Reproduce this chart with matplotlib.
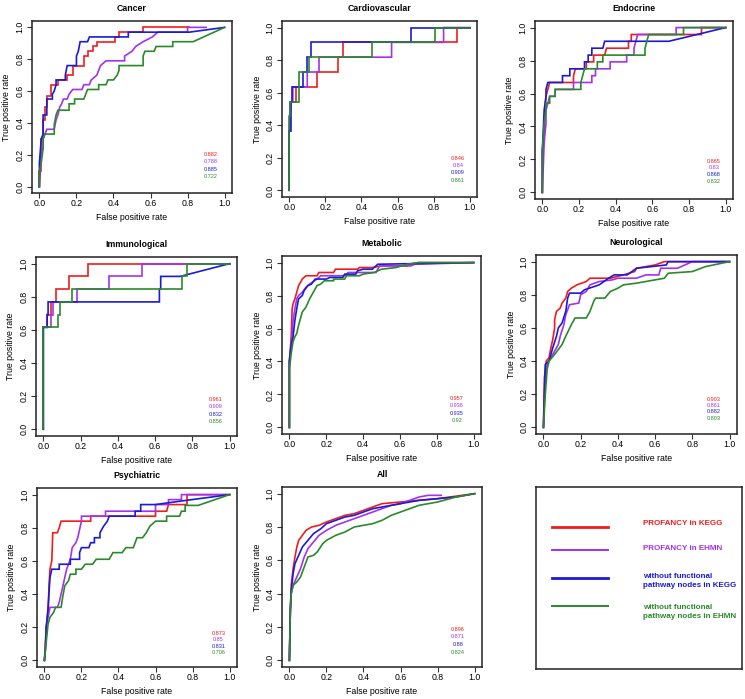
import matplotlib
matplotlib.use("Agg")
import matplotlib.pyplot as plt

plt.rcParams['font.family'] = ['Liberation Sans', 'DejaVu Sans']

# ---------------- data ----------------
methods = ["PROFANCY in KEGG", "PROFANCY in EHMN",
           "without functional\npathway nodes in KEGG",
           "without functional\npathway nodes in EHMN"]
colors = ['#f01c1c', '#a431ee', '#1a1ad8', '#2a8a2a']

# Cancer
cancer_kegg = [(0, 0), (0, 0.1), (0.01, 0.1), (0.01, 0.3), (0.02, 0.3), (0.02, 0.42), (0.03, 0.42), (0.03, 0.5),
               (0.04, 0.5), (0.04, 0.57), (0.06, 0.57), (0.06, 0.64), (0.1, 0.64), (0.1, 0.67), (0.15, 0.67),
               (0.15, 0.7), (0.18, 0.7), (0.18, 0.76), (0.24, 0.76), (0.24, 0.82), (0.26, 0.82), (0.26, 0.85),
               (0.29, 0.85), (0.29, 0.88), (0.31, 0.88), (0.31, 0.91), (0.41, 0.91), (0.41, 0.94), (0.43, 0.94),
               (0.43, 0.97), (0.56, 0.97), (0.56, 1.0), (0.81, 1.0)]
cancer_ehmn = [(0, 0), (0.01, 0.21), (0.02, 0.25), (0.02, 0.3), (0.03, 0.33), (0.04, 0.36), (0.08, 0.36),
               (0.09, 0.42), (0.1, 0.45), (0.11, 0.5), (0.12, 0.52), (0.13, 0.55), (0.15, 0.55), (0.16, 0.58),
               (0.18, 0.61), (0.23, 0.61), (0.24, 0.64), (0.27, 0.64), (0.28, 0.67), (0.31, 0.7), (0.32, 0.73),
               (0.33, 0.76), (0.36, 0.79), (0.46, 0.79), (0.46, 0.82), (0.5, 0.85), (0.52, 0.88), (0.56, 0.91),
               (0.61, 0.94), (0.64, 0.97), (0.8, 0.97), (0.8, 1.0), (0.9, 1.0)]
cancer_kegg_nofp = [(0, 0), (0, 0.15), (0.01, 0.3), (0.02, 0.33), (0.02, 0.45), (0.04, 0.45), (0.04, 0.55),
                    (0.07, 0.55), (0.07, 0.58), (0.08, 0.6), (0.09, 0.64), (0.09, 0.67), (0.14, 0.67),
                    (0.14, 0.7), (0.15, 0.76), (0.2, 0.76), (0.2, 0.82), (0.21, 0.85), (0.22, 0.91), (0.26, 0.91),
                    (0.27, 0.94), (0.48, 0.94), (0.48, 0.97), (0.81, 0.97), (1, 1)]
cancer_ehmn_nofp = [(0, 0), (0, 0.09), (0.01, 0.15), (0.02, 0.24), (0.02, 0.3), (0.03, 0.33), (0.08, 0.33),
                    (0.08, 0.39), (0.09, 0.45), (0.1, 0.48), (0.16, 0.48), (0.16, 0.52), (0.19, 0.52),
                    (0.19, 0.55), (0.24, 0.55), (0.25, 0.58), (0.26, 0.61), (0.32, 0.61), (0.32, 0.64),
                    (0.36, 0.64), (0.37, 0.67), (0.4, 0.67), (0.42, 0.7), (0.43, 0.73), (0.43, 0.76),
                    (0.56, 0.76), (0.56, 0.82), (0.57, 0.85), (0.62, 0.85), (0.63, 0.88), (0.72, 0.88),
                    (0.72, 0.91), (0.83, 0.91), (1, 1)]
cancer_auc = [0.882, 0.788, 0.885, 0.722]

# Cardiovascular
cardio_kegg = [(0, 0), (0, 0.364), (0.005, 0.364), (0.005, 0.545), (0.04, 0.545), (0.04, 0.636), (0.155, 0.636),
               (0.155, 0.727), (0.27, 0.727), (0.27, 0.818), (0.3, 0.818), (0.3, 0.909), (0.93, 0.909),
               (0.93, 1.0), (1, 1)]
cardio_ehmn = [(0, 0), (0, 0.364), (0.005, 0.455), (0.01, 0.545), (0.02, 0.545), (0.02, 0.636), (0.1, 0.636),
               (0.1, 0.727), (0.165, 0.727), (0.165, 0.818), (0.567, 0.818), (0.567, 0.909), (0.855, 0.909),
               (0.855, 1.0), (1, 1)]
cardio_kegg_nofp = [(0, 0), (0, 0.364), (0.01, 0.364), (0.01, 0.545), (0.015, 0.545), (0.015, 0.636),
                    (0.075, 0.636), (0.075, 0.727), (0.1, 0.727), (0.1, 0.818), (0.118, 0.818), (0.118, 0.909),
                    (0.672, 0.909), (0.672, 1.0), (1, 1)]
cardio_ehmn_nofp = [(0, 0), (0, 0.455), (0.005, 0.455), (0.005, 0.545), (0.055, 0.545), (0.055, 0.727),
                    (0.112, 0.727), (0.112, 0.818), (0.46, 0.818), (0.46, 0.909), (0.81, 0.909), (0.81, 1.0),
                    (1, 1)]
cardio_auc = [0.846, 0.84, 0.909, 0.861]

# Endocrine
endo_kegg = [(0, 0), (0, 0.25), (0.01, 0.375), (0.015, 0.5), (0.02, 0.583), (0.03, 0.625), (0.04, 0.667),
             (0.17, 0.667), (0.17, 0.708), (0.18, 0.75), (0.24, 0.75), (0.24, 0.792), (0.28, 0.792),
             (0.28, 0.833), (0.34, 0.833), (0.35, 0.875), (0.47, 0.875), (0.47, 0.917), (0.485, 0.917),
             (0.485, 0.958), (0.868, 0.958), (0.868, 1.0), (1, 1)]
endo_ehmn = [(0, 0), (0.01, 0.3), (0.02, 0.42), (0.02, 0.5), (0.03, 0.54), (0.04, 0.583), (0.07, 0.583),
             (0.07, 0.625), (0.17, 0.625), (0.17, 0.667), (0.27, 0.667), (0.27, 0.708), (0.29, 0.708),
             (0.29, 0.75), (0.37, 0.75), (0.37, 0.792), (0.46, 0.792), (0.46, 0.833), (0.5, 0.833),
             (0.5, 0.875), (0.51, 0.917), (0.52, 0.958), (0.73, 0.958), (0.73, 1.0), (1, 1)]
endo_kegg_nofp = [(0, 0), (0, 0.25), (0.005, 0.375), (0.01, 0.5), (0.02, 0.583), (0.02, 0.625), (0.03, 0.667),
                  (0.11, 0.667), (0.11, 0.708), (0.15, 0.708), (0.15, 0.75), (0.23, 0.75), (0.23, 0.792),
                  (0.25, 0.792), (0.25, 0.833), (0.27, 0.833), (0.27, 0.875), (0.33, 0.875), (0.34, 0.917),
                  (0.69, 0.917), (1, 1)]
endo_ehmn_nofp = [(0, 0), (0, 0.25), (0.01, 0.42), (0.02, 0.5), (0.02, 0.542), (0.04, 0.542), (0.04, 0.583),
                  (0.07, 0.583), (0.07, 0.625), (0.21, 0.625), (0.21, 0.667), (0.22, 0.708), (0.23, 0.75),
                  (0.3, 0.75), (0.3, 0.792), (0.33, 0.792), (0.33, 0.833), (0.56, 0.833), (0.56, 0.875),
                  (0.57, 0.917), (0.58, 0.958), (0.77, 0.958), (0.77, 1.0), (1, 1)]
endo_auc = [0.865, 0.83, 0.868, 0.832]

# Immunological
immuno_kegg = [(0, 0), (0, 0.615), (0.02, 0.615), (0.02, 0.692), (0.04, 0.692), (0.04, 0.769), (0.066, 0.769),
               (0.066, 0.846), (0.1375, 0.846), (0.1375, 0.923), (0.24, 0.923), (0.24, 1.0), (1, 1)]
immuno_ehmn = [(0, 0), (0, 0.615), (0.04, 0.615), (0.04, 0.692), (0.05, 0.692), (0.05, 0.769), (0.18, 0.769),
               (0.18, 0.846), (0.35, 0.846), (0.35, 0.923), (0.53, 0.923), (0.53, 1.0), (1, 1)]
immuno_kegg_nofp = [(0, 0), (0, 0.615), (0.02, 0.615), (0.02, 0.692), (0.025, 0.692), (0.025, 0.769),
                    (0.623, 0.769), (0.623, 0.846), (0.63, 0.846), (0.63, 0.923), (0.735, 0.923), (1, 1)]
immuno_ehmn_nofp = [(0, 0), (0, 0.615), (0.08, 0.615), (0.08, 0.692), (0.09, 0.692), (0.09, 0.769),
                    (0.152, 0.769), (0.152, 0.846), (0.745, 0.846), (0.745, 0.923), (0.77, 0.923), (0.77, 1.0),
                    (1, 1)]
immuno_auc = [0.961, 0.909, 0.832, 0.856]

# Metabolic
metab_kegg = [(0, 0), (0, 0.4), (0.01, 0.55), (0.015, 0.72), (0.02, 0.75), (0.03, 0.78), (0.04, 0.82),
              (0.05, 0.86), (0.06, 0.88), (0.07, 0.9), (0.09, 0.92), (0.15, 0.92), (0.16, 0.94), (0.24, 0.94),
              (0.25, 0.96), (0.37, 0.96), (0.38, 0.97), (0.45, 0.97), (0.5, 0.98), (0.64, 0.98), (0.65, 0.99),
              (0.7, 1.0), (1, 1)]
metab_ehmn = [(0, 0), (0, 0.4), (0.01, 0.5), (0.02, 0.65), (0.03, 0.72), (0.04, 0.78), (0.05, 0.8),
              (0.07, 0.82), (0.09, 0.85), (0.11, 0.87), (0.15, 0.9), (0.17, 0.92), (0.3, 0.92), (0.32, 0.94),
              (0.47, 0.94), (0.49, 0.98), (0.66, 0.98), (0.68, 0.99), (1, 1)]
metab_kegg_nofp = [(0, 0), (0, 0.4), (0.01, 0.5), (0.02, 0.55), (0.03, 0.65), (0.04, 0.72), (0.05, 0.78),
                   (0.07, 0.8), (0.08, 0.83), (0.1, 0.86), (0.12, 0.87), (0.14, 0.9), (0.2, 0.9), (0.22, 0.91),
                   (0.29, 0.91), (0.3, 0.93), (0.36, 0.93), (0.37, 0.95), (0.4, 0.96), (0.45, 0.96),
                   (0.48, 0.99), (1, 1)]
metab_ehmn_nofp = [(0, 0), (0, 0.35), (0.01, 0.45), (0.02, 0.52), (0.03, 0.55), (0.04, 0.57), (0.05, 0.62),
                   (0.06, 0.66), (0.07, 0.7), (0.09, 0.73), (0.11, 0.78), (0.13, 0.82), (0.15, 0.86),
                   (0.17, 0.87), (0.19, 0.89), (0.24, 0.89), (0.24, 0.9), (0.3, 0.9), (0.31, 0.92), (0.38, 0.92),
                   (0.4, 0.93), (0.46, 0.94), (0.5, 0.96), (0.58, 0.97), (0.64, 0.99), (0.7, 1.0), (1, 1)]
metab_auc = [0.957, 0.936, 0.935, 0.92]

# Neurological
neuro_kegg = [(0, 0), (0.005, 0.3), (0.01, 0.35), (0.015, 0.4), (0.03, 0.42), (0.04, 0.48), (0.05, 0.53),
              (0.06, 0.6), (0.06, 0.65), (0.07, 0.7), (0.09, 0.72), (0.1, 0.75), (0.12, 0.78), (0.13, 0.82),
              (0.15, 0.84), (0.18, 0.86), (0.23, 0.88), (0.25, 0.9), (0.36, 0.9), (0.43, 0.92), (0.49, 0.94),
              (0.5, 0.96), (0.6, 0.98), (0.65, 1.0), (1, 1)]
neuro_ehmn = [(0, 0), (0.01, 0.3), (0.02, 0.38), (0.04, 0.42), (0.06, 0.46), (0.08, 0.5), (0.09, 0.55),
              (0.11, 0.62), (0.12, 0.68), (0.14, 0.74), (0.19, 0.75), (0.2, 0.8), (0.23, 0.82), (0.25, 0.86),
              (0.3, 0.88), (0.37, 0.89), (0.4, 0.9), (0.5, 0.9), (0.55, 0.92), (0.62, 0.92), (0.63, 0.96),
              (0.72, 0.96), (0.8, 1.0), (1, 1)]
neuro_kegg_nofp = [(0, 0), (0.005, 0.2), (0.01, 0.38), (0.03, 0.4), (0.05, 0.48), (0.07, 0.55), (0.08, 0.6),
                   (0.1, 0.63), (0.12, 0.7), (0.13, 0.78), (0.14, 0.81), (0.2, 0.81), (0.22, 0.83), (0.3, 0.86),
                   (0.35, 0.9), (0.38, 0.92), (0.45, 0.92), (0.5, 0.96), (0.66, 0.98), (0.67, 1.0), (1, 1)]
neuro_ehmn_nofp = [(0, 0), (0.01, 0.2), (0.02, 0.35), (0.03, 0.4), (0.06, 0.44), (0.08, 0.47), (0.1, 0.5),
                   (0.12, 0.55), (0.15, 0.62), (0.17, 0.66), (0.23, 0.66), (0.25, 0.7), (0.27, 0.76),
                   (0.28, 0.78), (0.33, 0.78), (0.36, 0.82), (0.4, 0.84), (0.43, 0.86), (0.5, 0.87),
                   (0.55, 0.88), (0.6, 0.89), (0.65, 0.9), (0.67, 0.93), (0.8, 0.94), (0.87, 0.97), (1, 1)]
neuro_auc = [0.903, 0.861, 0.882, 0.803]

# Psychiatric
psych_kegg = [(0, 0), (0.005, 0.06), (0.01, 0.2), (0.02, 0.3), (0.025, 0.45), (0.03, 0.55), (0.04, 0.6),
              (0.045, 0.77), (0.07, 0.77), (0.08, 0.8), (0.09, 0.84), (0.25, 0.84), (0.25, 0.87), (0.6, 0.87),
              (0.6, 0.9), (0.66, 0.9), (0.67, 0.94), (0.77, 0.94), (0.77, 1.0), (1, 1)]
psych_ehmn = [(0, 0), (0.005, 0.1), (0.01, 0.2), (0.02, 0.26), (0.03, 0.32), (0.07, 0.32), (0.08, 0.35),
              (0.1, 0.45), (0.12, 0.55), (0.14, 0.61), (0.15, 0.68), (0.17, 0.71), (0.18, 0.74), (0.2, 0.84),
              (0.2, 0.87), (0.33, 0.87), (0.33, 0.9), (0.6, 0.9), (0.6, 0.94), (0.67, 0.94), (0.67, 0.97),
              (0.74, 0.97), (0.74, 1.0), (1, 1)]
psych_kegg_nofp = [(0, 0), (0.005, 0.06), (0.01, 0.2), (0.02, 0.32), (0.03, 0.5), (0.04, 0.55), (0.08, 0.55),
                   (0.08, 0.58), (0.14, 0.58), (0.14, 0.61), (0.19, 0.61), (0.19, 0.65), (0.2, 0.68),
                   (0.24, 0.68), (0.25, 0.71), (0.27, 0.71), (0.27, 0.74), (0.3, 0.74), (0.3, 0.77),
                   (0.32, 0.81), (0.34, 0.84), (0.35, 0.87), (0.49, 0.87), (0.49, 0.9), (0.52, 0.9),
                   (0.52, 0.94), (0.6, 0.94), (0.73, 0.96), (1, 1)]
psych_ehmn_nofp = [(0, 0), (0.005, 0.06), (0.02, 0.22), (0.03, 0.26), (0.05, 0.29), (0.06, 0.32), (0.09, 0.32),
                   (0.1, 0.39), (0.11, 0.45), (0.13, 0.48), (0.14, 0.52), (0.17, 0.52), (0.17, 0.55),
                   (0.2, 0.55), (0.22, 0.58), (0.26, 0.58), (0.28, 0.61), (0.35, 0.61), (0.37, 0.65),
                   (0.42, 0.65), (0.44, 0.68), (0.48, 0.68), (0.49, 0.71), (0.5, 0.74), (0.53, 0.74),
                   (0.55, 0.77), (0.57, 0.81), (0.6, 0.84), (0.66, 0.84), (0.66, 0.87), (0.73, 0.87),
                   (0.74, 0.9), (0.76, 0.9), (0.76, 0.935), (0.83, 0.935), (1, 1)]
psych_auc = [0.873, 0.85, 0.831, 0.706]

# All
all_kegg = [(0, 0), (0.005, 0.3), (0.01, 0.45), (0.02, 0.55), (0.03, 0.62), (0.04, 0.68), (0.05, 0.72),
            (0.07, 0.75), (0.09, 0.78), (0.12, 0.8), (0.16, 0.81), (0.2, 0.83), (0.25, 0.85), (0.3, 0.87),
            (0.35, 0.88), (0.4, 0.9), (0.45, 0.92), (0.5, 0.94), (0.6, 0.95), (0.7, 0.96), (0.8, 0.97),
            (0.9, 0.985), (1, 1)]
all_ehmn = [(0, 0), (0.005, 0.3), (0.01, 0.4), (0.02, 0.45), (0.04, 0.5), (0.06, 0.55), (0.08, 0.62),
            (0.1, 0.67), (0.13, 0.71), (0.16, 0.75), (0.2, 0.78), (0.25, 0.81), (0.3, 0.83), (0.35, 0.85),
            (0.4, 0.87), (0.45, 0.89), (0.5, 0.91), (0.55, 0.93), (0.6, 0.94), (0.65, 0.96), (0.7, 0.98),
            (0.75, 0.99), (0.82, 0.99)]
all_kegg_nofp = [(0, 0), (0.005, 0.3), (0.01, 0.42), (0.02, 0.52), (0.03, 0.58), (0.05, 0.63), (0.07, 0.68),
                 (0.1, 0.72), (0.13, 0.76), (0.17, 0.79), (0.2, 0.82), (0.25, 0.84), (0.3, 0.86), (0.35, 0.87),
                 (0.4, 0.89), (0.45, 0.91), (0.5, 0.92), (0.6, 0.94), (0.7, 0.96), (0.8, 0.97), (0.9, 0.98),
                 (1, 1)]
all_ehmn_nofp = [(0, 0), (0.005, 0.3), (0.01, 0.4), (0.02, 0.45), (0.04, 0.47), (0.06, 0.5), (0.08, 0.56),
                 (0.1, 0.62), (0.13, 0.63), (0.15, 0.65), (0.18, 0.7), (0.2, 0.72), (0.25, 0.75), (0.3, 0.77),
                 (0.35, 0.8), (0.4, 0.81), (0.45, 0.82), (0.5, 0.84), (0.55, 0.87), (0.6, 0.89), (0.65, 0.91),
                 (0.7, 0.93), (0.8, 0.95), (0.9, 0.98), (1, 1)]
all_auc = [0.896, 0.871, 0.88, 0.824]

panels = [
    ("Cancer", [cancer_kegg, cancer_ehmn, cancer_kegg_nofp, cancer_ehmn_nofp], cancer_auc),
    ("Cardiovascular", [cardio_kegg, cardio_ehmn, cardio_kegg_nofp, cardio_ehmn_nofp], cardio_auc),
    ("Endocrine", [endo_kegg, endo_ehmn, endo_kegg_nofp, endo_ehmn_nofp], endo_auc),
    ("Immunological", [immuno_kegg, immuno_ehmn, immuno_kegg_nofp, immuno_ehmn_nofp], immuno_auc),
    ("Metabolic", [metab_kegg, metab_ehmn, metab_kegg_nofp, metab_ehmn_nofp], metab_auc),
    ("Neurological", [neuro_kegg, neuro_ehmn, neuro_kegg_nofp, neuro_ehmn_nofp], neuro_auc),
    ("Psychiatric", [psych_kegg, psych_ehmn, psych_kegg_nofp, psych_ehmn_nofp], psych_auc),
    ("All", [all_kegg, all_ehmn, all_kegg_nofp, all_ehmn_nofp], all_auc),
]

# ---------------- layout (pixel boxes: left, top, right, bottom) ----------------
W, H = 745, 699
boxes = [(32, 21, 232, 193), (282, 21, 477, 197), (535, 21, 733, 199),
         (36, 257, 237, 436), (282, 256, 481, 434), (536, 255, 737, 434),
         (37, 488, 237, 667), (282, 487, 482, 667)]
legend_box = (536, 487, 742, 669)
# AUC text: x centre, first y, line step (data units)
auc_pos = [(0.926, 0.2, 0.045), (0.934, 0.196, 0.044), (0.937, 0.19, 0.041), (0.923, 0.181, 0.045),
           (0.91, 0.176, 0.045), (0.914, 0.17, 0.038), (0.94, 0.163, 0.039), (0.91, 0.187, 0.047)]

FS = 6.3
fig = plt.figure(figsize=(W / 100, H / 100), dpi=100)


def px_rect(b):
    l, t, r, bt = b
    return [l / W, (H - bt) / H, (r - l) / W, (bt - t) / H]


for (title, curves, aucs), b, (tx, ty, dy) in zip(panels, boxes, auc_pos):
    ax = fig.add_axes(px_rect(b))
    for pts, c in zip(curves, colors):
        xs = [p[0] for p in pts]
        ys = [p[1] for p in pts]
        ax.plot(xs, ys, color=c, lw=1.2, solid_joinstyle='miter')
    for i, (a, c) in enumerate(zip(aucs, colors)):
        ax.text(tx, ty - i * dy, f"{a:g}", color=c, fontsize=4, ha='center', va='center')
    ax.set_xlim(-0.04, 1.04)
    ax.set_ylim(-0.04, 1.04)
    ticks = [0.0, 0.2, 0.4, 0.6, 0.8, 1.0]
    ax.set_xticks(ticks)
    ax.set_yticks(ticks)
    ax.set_xticklabels([f"{t:.1f}" for t in ticks])
    ax.set_yticklabels([f"{t:.1f}" for t in ticks], rotation=90, va='center')
    ax.tick_params(axis='both', direction='out', length=3.6, width=0.8, labelsize=FS, color='#333333')
    ax.tick_params(axis='x', pad=0.6)
    ax.tick_params(axis='y', pad=2.0)
    for s in ax.spines.values():
        s.set_linewidth(1.1)
        s.set_color('#222222')
    ax.set_title(title, fontsize=FS, fontweight='bold', pad=7.5)
    ax.annotate("False positive rate", xy=(0.5, 0), xycoords='axes fraction', xytext=(0, -17.5),
                textcoords='offset points', ha='center', va='center', fontsize=FS)
    ax.annotate("True positive rate", xy=(0, 0.5), xycoords='axes fraction', xytext=(-18, 0),
                textcoords='offset points', ha='center', va='center', rotation=90, fontsize=FS)

# ---------------- legend panel ----------------
lax = fig.add_axes(px_rect(legend_box))
lax.set_xlim(0, 1)
lax.set_ylim(0, 1)
lax.set_xticks([])
lax.set_yticks([])
for s in lax.spines.values():
    s.set_linewidth(1.1)
    s.set_color('#222222')
line_y = [0.78, 0.654, 0.5, 0.346]
text_y = [0.797, 0.66, 0.484, 0.313]
line_w = [2.0, 1.4, 2.0, 1.4]
for m, c, ly, tyy, lw in zip(methods, colors, line_y, text_y, line_w):
    lax.plot([0.078, 0.35], [ly, ly], color=c, lw=lw)
    lax.text(0.52, tyy, m, color=c, fontsize=5.8, fontweight='bold', ha='left', va='center',
             linespacing=1.3)

fig.savefig("out.png", dpi=100, facecolor='white')
